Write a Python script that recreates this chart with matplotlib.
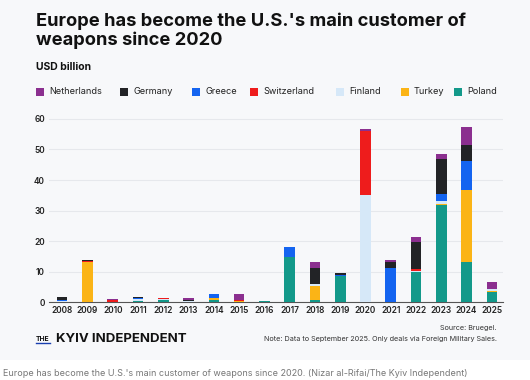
import matplotlib.pyplot as plt
import numpy as np

plt.rcParams['font.family'] = ['Inter', 'DejaVu Sans']

years = [str(y) for y in range(2008, 2026)]

# stacked bottom -> top
poland      = [0.0, 0.0, 0.0, 0.3, 0.8, 0.0, 0.8, 0.0, 0.3, 14.8, 0.8, 8.4, 0.0, 0.0, 9.7, 31.8, 13.3, 3.2]
turkey      = [0.0, 13.2, 0.0, 0.0, 0.0, 0.0, 0.4, 0.4, 0.0, 0.0, 4.5, 0.0, 0.0, 0.0, 0.0, 0.3, 23.3, 0.3]
finland     = [0.5, 0.0, 0.0, 0.7, 0.3, 0.4, 0.3, 0.0, 0.0, 0.0, 0.6, 0.0, 35.1, 0.0, 0.6, 1.0, 0.0, 0.8]
switzerland = [0.0, 0.3, 0.8, 0.0, 0.3, 0.0, 0.0, 0.2, 0.0, 0.0, 0.0, 0.0, 20.9, 0.0, 0.6, 0.0, 0.2, 0.0]
greece      = [0.3, 0.0, 0.0, 0.3, 0.0, 0.0, 1.1, 0.0, 0.0, 3.4, 0.0, 0.5, 0.0, 11.3, 0.0, 2.3, 9.3, 0.0]
germany     = [0.9, 0.3, 0.0, 0.4, 0.0, 0.3, 0.0, 0.0, 0.0, 0.0, 5.2, 0.6, 0.0, 2.0, 8.9, 11.4, 5.3, 0.0]
netherlands = [0.0, 0.0, 0.2, 0.0, 0.0, 0.5, 0.0, 1.9, 0.0, 0.0, 2.0, 0.0, 0.6, 0.4, 1.5, 1.7, 5.9, 2.4]

series = [
    ('Poland', poland, '#13998a'),
    ('Turkey', turkey, '#fbb416'),
    ('Finland', finland, '#d6e8f8'),
    ('Switzerland', switzerland, '#ee1c1c'),
    ('Greece', greece, '#1464f0'),
    ('Germany', germany, '#222326'),
    ('Netherlands', netherlands, '#8b2f8f'),
]

bg = '#f7f8fa'
fig = plt.figure(figsize=(5.3, 3.8), dpi=100)
fig.patch.set_facecolor('white')
fig.patches.append(plt.Rectangle((0, 20 / 380), 1, 1, transform=fig.transFigure,
                                 facecolor=bg, edgecolor='none', zorder=-10))

ax = fig.add_axes([0.0925, 0.205, 0.857, 0.494])
ax.set_facecolor(bg)

x = np.arange(len(years))
bottom = np.zeros(len(years))
for name, vals, color in series:
    ax.bar(x, vals, width=0.42, bottom=bottom, color=color, zorder=3)
    bottom += np.array(vals)

ax.set_xlim(-0.52, 17.45)
ax.set_ylim(0, 61.5)
ax.set_yticks(range(0, 61, 10))
ax.set_xticks(x)
ax.set_xticklabels(years)
ax.tick_params(axis='both', length=0, labelsize=6, colors='#222222', pad=3)
for lab in ax.get_xticklabels() + ax.get_yticklabels():
    lab.set_fontweight('semibold')
ax.grid(axis='y', color='#e6e8ec', linewidth=0.8, zorder=0)
for s in ['top', 'right', 'left']:
    ax.spines[s].set_visible(False)
ax.spines['bottom'].set_color('#555555')
ax.spines['bottom'].set_linewidth(0.8)

fig.text(36 / 530, 1 - 12 / 380, "Europe has become the U.S.'s main customer of\nweapons since 2020",
         fontsize=13.2, fontweight='bold', color='#111111', va='top', linespacing=1.15)
fig.text(36 / 530, 1 - 70 / 380, 'USD billion', fontsize=7.5, fontweight='bold', color='#111111')

legend_items = [('Netherlands', 36), ('Germany', 120), ('Greece', 192), ('Switzerland', 250),
                ('Finland', 336), ('Turkey', 401), ('Poland', 454)]
colors = {n: c for n, _, c in series}
for name, px in legend_items:
    fig.patches.append(plt.Rectangle((px / 530, 1 - 95.5 / 380), 8 / 530, 8 / 380,
                                     transform=fig.transFigure, facecolor=colors[name],
                                     edgecolor='none'))
    fig.text((px + 13) / 530, 1 - 91.5 / 380, name, fontsize=6.6, color='#222222', va='center')

# footer
fig.text(36 / 530, 1 - 341 / 380, 'THE', fontsize=4.8, fontweight='bold', color='#111111')
fig.lines.append(plt.Line2D([36 / 530, 50 / 530], [1 - 342.5 / 380, 1 - 342.5 / 380],
                            transform=fig.transFigure, color='#1a3fb0', linewidth=1.0))
fig.text(56 / 530, 1 - 342 / 380, 'KYIV INDEPENDENT', fontsize=9.5, fontweight='bold',
         color='#111111')
fig.text(497 / 530, 1 - 330 / 380, 'Source: Bruegel.', fontsize=5.2, color='#333333', ha='right')
fig.text(497 / 530, 1 - 341 / 380,
         'Note: Data to September 2025. Only deals via Foreign Military Sales.',
         fontsize=5.2, color='#333333', ha='right')

fig.text(3 / 530, 1 - 376 / 380,
         'Europe has become the U.S.\'s main customer of weapons since 2020. (Nizar al-Rifai/The Kyiv Independent)',
         fontsize=6.5, color='#777777')

fig.savefig('out.png', dpi=100, facecolor=fig.get_facecolor())
